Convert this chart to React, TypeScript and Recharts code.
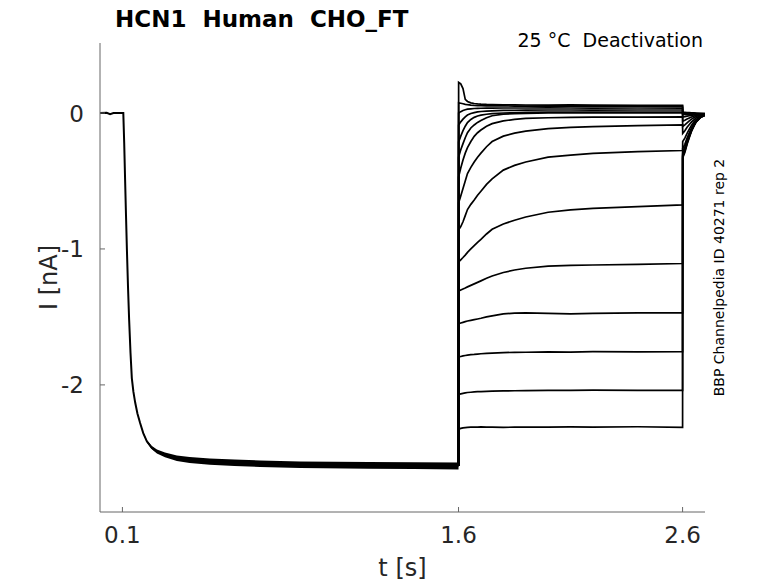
import React from 'react';
import { ComposedChart, Line, Area, XAxis, YAxis } from 'recharts';

// Common activation part (holding current before the deactivation steps)
const activationT = [0, 0.03, 0.045, 0.06, 0.09, 0.104, 0.108, 0.112, 0.116, 0.12, 0.125, 0.13, 0.136, 0.142, 0.149, 0.157, 0.167, 0.179, 0.193, 0.209, 0.23, 0.254, 0.29, 0.343, 0.4, 0.49, 0.6, 0.715, 0.893, 1.2, 1.4, 1.6];
const activationI = [0, 0.002, -0.008, 0.0, 0.0, 0.0, -0.22, -0.49, -0.75, -1.0, -1.28, -1.52, -1.76, -1.95, -2.05, -2.13, -2.21, -2.28, -2.355, -2.415, -2.46, -2.49, -2.515, -2.54, -2.552, -2.564, -2.573, -2.58, -2.588, -2.592, -2.594, -2.596];

// Envelope of the noisy, overlapping plateau band
const bandT = [0.193, 0.209, 0.23, 0.254, 0.29, 0.343, 0.4, 0.49, 0.6, 0.715, 0.893, 1.2, 1.4, 1.6];
const bandLo = [-2.361, -2.424, -2.472, -2.505, -2.533, -2.56, -2.574, -2.587, -2.597, -2.604, -2.612, -2.616, -2.619, -2.622];
const bandHi = [-2.349, -2.406, -2.448, -2.475, -2.497, -2.52, -2.53, -2.541, -2.549, -2.556, -2.564, -2.568, -2.569, -2.57];

// Deactivation sweeps: time grid after the step at 1.6 s (test pulse, then return at 2.6 s)
const sweepT = [1.6005, 1.61, 1.62, 1.63, 1.64, 1.655, 1.67, 1.685, 1.7, 1.725, 1.75, 1.8, 1.85, 1.9, 2.0, 2.1, 2.2, 2.4, 2.6, 2.6005, 2.61, 2.62, 2.63, 2.64, 2.65, 2.66, 2.68, 2.7];

const sweep01 = [0.225, 0.215, 0.18, 0.1, 0.085, 0.075, 0.07, 0.067, 0.065, 0.063, 0.062, 0.06, 0.06, 0.059, 0.058, 0.06, 0.058, 0.057, 0.057, 0.005, 0.004, 0.003, 0.003, 0.002, 0.001, 0.0, -0.002, -0.004];
const sweep02 = [0.075, 0.072, 0.068, 0.064, 0.061, 0.058, 0.056, 0.055, 0.054, 0.053, 0.053, 0.052, 0.051, 0.051, 0.05, 0.051, 0.05, 0.05, 0.049, 0.0, 0.0, -0.001, -0.001, -0.002, -0.002, -0.003, -0.004, -0.005];
const sweep03 = [0.0, 0.01, 0.018, 0.024, 0.028, 0.031, 0.033, 0.034, 0.035, 0.036, 0.036, 0.037, 0.037, 0.037, 0.038, 0.037, 0.036, 0.037, 0.036, -0.005, -0.005, -0.006, -0.006, -0.006, -0.006, -0.006, -0.007, -0.007];
const sweep04 = [-0.088, -0.065, -0.045, -0.028, -0.015, -0.004, 0.003, 0.008, 0.011, 0.014, 0.016, 0.019, 0.02, 0.021, 0.022, 0.022, 0.021, 0.022, 0.022, -0.012, -0.011, -0.01, -0.01, -0.009, -0.009, -0.008, -0.008, -0.008];
const sweep05 = [-0.213, -0.17, -0.13, -0.097, -0.07, -0.047, -0.032, -0.022, -0.016, -0.009, -0.005, 0.0, 0.002, 0.004, 0.006, 0.007, 0.007, 0.007, 0.007, -0.03, -0.027, -0.023, -0.02, -0.017, -0.014, -0.012, -0.01, -0.009];
const sweep06 = [-0.324, -0.27, -0.225, -0.182, -0.145, -0.11, -0.088, -0.069, -0.055, -0.035, -0.02, -0.008, -0.004, -0.002, 0.0, 0.0, 0.001, 0.0, 0.0, -0.06, -0.053, -0.044, -0.036, -0.029, -0.023, -0.018, -0.012, -0.01];
const sweep07 = [-0.47, -0.405, -0.345, -0.295, -0.255, -0.21, -0.172, -0.145, -0.125, -0.098, -0.078, -0.058, -0.047, -0.04, -0.035, -0.032, -0.031, -0.03, -0.029, -0.1, -0.088, -0.072, -0.058, -0.045, -0.035, -0.026, -0.016, -0.011];
const sweep08 = [-0.66, -0.61, -0.555, -0.5, -0.445, -0.4, -0.36, -0.325, -0.295, -0.248, -0.21, -0.17, -0.148, -0.133, -0.115, -0.106, -0.1, -0.093, -0.088, -0.15, -0.13, -0.105, -0.084, -0.065, -0.05, -0.036, -0.02, -0.012];
const sweep09 = [-0.86, -0.835, -0.8, -0.755, -0.71, -0.672, -0.64, -0.605, -0.575, -0.525, -0.485, -0.42, -0.385, -0.36, -0.325, -0.31, -0.297, -0.284, -0.276, -0.21, -0.185, -0.15, -0.118, -0.09, -0.067, -0.048, -0.025, -0.013];
const sweep10 = [-1.096, -1.08, -1.063, -1.045, -1.025, -1.0, -0.975, -0.952, -0.93, -0.89, -0.855, -0.816, -0.789, -0.765, -0.73, -0.713, -0.702, -0.688, -0.676, -0.26, -0.23, -0.185, -0.145, -0.11, -0.082, -0.057, -0.028, -0.014];
const sweep11 = [-1.31, -1.302, -1.294, -1.287, -1.279, -1.268, -1.257, -1.246, -1.235, -1.216, -1.199, -1.173, -1.155, -1.142, -1.126, -1.121, -1.118, -1.114, -1.107, -0.285, -0.25, -0.2, -0.157, -0.118, -0.087, -0.06, -0.03, -0.014];
const sweep12 = [-1.55, -1.545, -1.54, -1.535, -1.53, -1.525, -1.52, -1.515, -1.51, -1.5, -1.492, -1.478, -1.472, -1.47, -1.474, -1.478, -1.474, -1.47, -1.47, -0.3, -0.265, -0.21, -0.165, -0.122, -0.09, -0.062, -0.03, -0.015];
const sweep13 = [-1.795, -1.791, -1.787, -1.784, -1.781, -1.778, -1.776, -1.773, -1.771, -1.768, -1.766, -1.762, -1.761, -1.76, -1.757, -1.759, -1.756, -1.757, -1.755, -0.31, -0.273, -0.217, -0.17, -0.126, -0.093, -0.064, -0.031, -0.015];
const sweep14 = [-2.07, -2.066, -2.062, -2.059, -2.056, -2.054, -2.052, -2.05, -2.049, -2.047, -2.046, -2.044, -2.043, -2.042, -2.04, -2.041, -2.039, -2.04, -2.04, -0.32, -0.282, -0.224, -0.175, -0.13, -0.096, -0.065, -0.032, -0.016];
const sweep15 = [-2.325, -2.32, -2.316, -2.314, -2.312, -2.311, -2.31, -2.31, -2.309, -2.31, -2.31, -2.312, -2.311, -2.31, -2.311, -2.309, -2.31, -2.308, -2.312, -0.33, -0.29, -0.23, -0.18, -0.133, -0.098, -0.067, -0.033, -0.016];

const xTicks = [0.1, 1.6, 2.6];
const yTicks = [-2, -1, 0];

const sweeps = [sweep01, sweep02, sweep03, sweep04, sweep05, sweep06, sweep07, sweep08, sweep09, sweep10, sweep11, sweep12, sweep13, sweep14, sweep15];

const activationData = activationT.map((t, k) => ({ t, i: activationI[k] }));
const bandData = bandT.map((t, k) => ({ t, range: [bandLo[k], bandHi[k]] }));
const holdT = activationT[activationT.length - 1];
const holdI = activationI[activationI.length - 1];
const sweepData = sweeps.map((vals) => [
  { t: holdT, i: holdI },
  ...sweepT.map((t, k) => ({ t, i: vals[k] })),
]);

const FONT = 'DejaVu Sans';
const AXIS = '#666666';
const TEXT = '#262626';

const YTick = (props: any) => {
  const { x, y, payload } = props;
  return (
    <g>
      <line x1={x} x2={x + 5} y1={y} y2={y} stroke={AXIS} strokeWidth={1} />
      <text x={x - 16} y={y + 8.5} textAnchor="end" fontSize={23} fontFamily={FONT} fill={TEXT}>
        {String(payload.value)}
      </text>
    </g>
  );
};

const XTick = (props: any) => {
  const { x, y, payload } = props;
  return (
    <g>
      <line x1={x} x2={x} y1={y} y2={y - 5} stroke={AXIS} strokeWidth={1} />
      <text x={x} y={y + 31} textAnchor="middle" fontSize={23} fontFamily={FONT} fill={TEXT}>
        {String(payload.value)}
      </text>
    </g>
  );
};

export default function App() {
  return (
    <div style={{ position: 'absolute', left: 0, top: 0, width: 778, height: 583, background: '#fff' }}>
      <ComposedChart width={778} height={583} margin={{ top: 43, right: 73, bottom: 41, left: 60 }}>
        <XAxis
          type="number"
          dataKey="t"
          domain={[0, 2.7]}
          ticks={xTicks}
          allowDataOverflow
          height={30}
          tickSize={0}
          tickMargin={0}
          tickLine={false}
          axisLine={{ stroke: AXIS, strokeWidth: 1 }}
          tick={<XTick />}
          interval={0}
        />
        <YAxis
          type="number"
          domain={[-2.935, 0.515]}
          ticks={yTicks}
          allowDataOverflow
          width={40}
          tickSize={0}
          tickMargin={0}
          tickLine={false}
          axisLine={{ stroke: AXIS, strokeWidth: 1 }}
          tick={<YTick />}
          interval={0}
        />
        <Area
          data={bandData}
          dataKey="range"
          type="linear"
          stroke="none"
          fill="#000"
          fillOpacity={1}
          isAnimationActive={false}
          dot={false}
          activeDot={false}
        />
        <Line
          data={activationData}
          dataKey="i"
          type="linear"
          stroke="#000"
          strokeWidth={2}
          dot={false}
          activeDot={false}
          isAnimationActive={false}
        />
        {sweepData.map((d, k) => (
          <Line
            key={k}
            data={d}
            dataKey="i"
            type="linear"
            stroke="#000"
            strokeWidth={1.7}
            dot={false}
            activeDot={false}
            isAnimationActive={false}
          />
        ))}
      </ComposedChart>
      <svg
        width={778}
        height={583}
        style={{ position: 'absolute', left: 0, top: 0, pointerEvents: 'none' }}
      >
        <text x={115} y={27} fontSize={23} fontWeight="bold" fontFamily={FONT} fill="#000" style={{ whiteSpace: 'pre' }}>
          {'HCN1  Human  CHO_FT'}
        </text>
        <text x={703} y={47} textAnchor="end" fontSize={19} fontFamily={FONT} fill="#000" style={{ whiteSpace: 'pre' }}>
          {'25 °C  Deactivation'}
        </text>
        <text
          x={0}
          y={0}
          transform="translate(724,277.5) rotate(-90)"
          textAnchor="middle"
          fontSize={14}
          fontFamily={FONT}
          fill="#000"
        >
          BBP Channelpedia ID 40271 rep 2
        </text>
        <text
          x={0}
          y={0}
          transform="translate(57,277.5) rotate(-90)"
          textAnchor="middle"
          fontSize={24}
          fontFamily={FONT}
          fill={TEXT}
        >
          I [nA]
        </text>
        <text x={402.5} y={576} textAnchor="middle" fontSize={24} fontFamily={FONT} fill={TEXT}>
          t [s]
        </text>
      </svg>
    </div>
  );
}
